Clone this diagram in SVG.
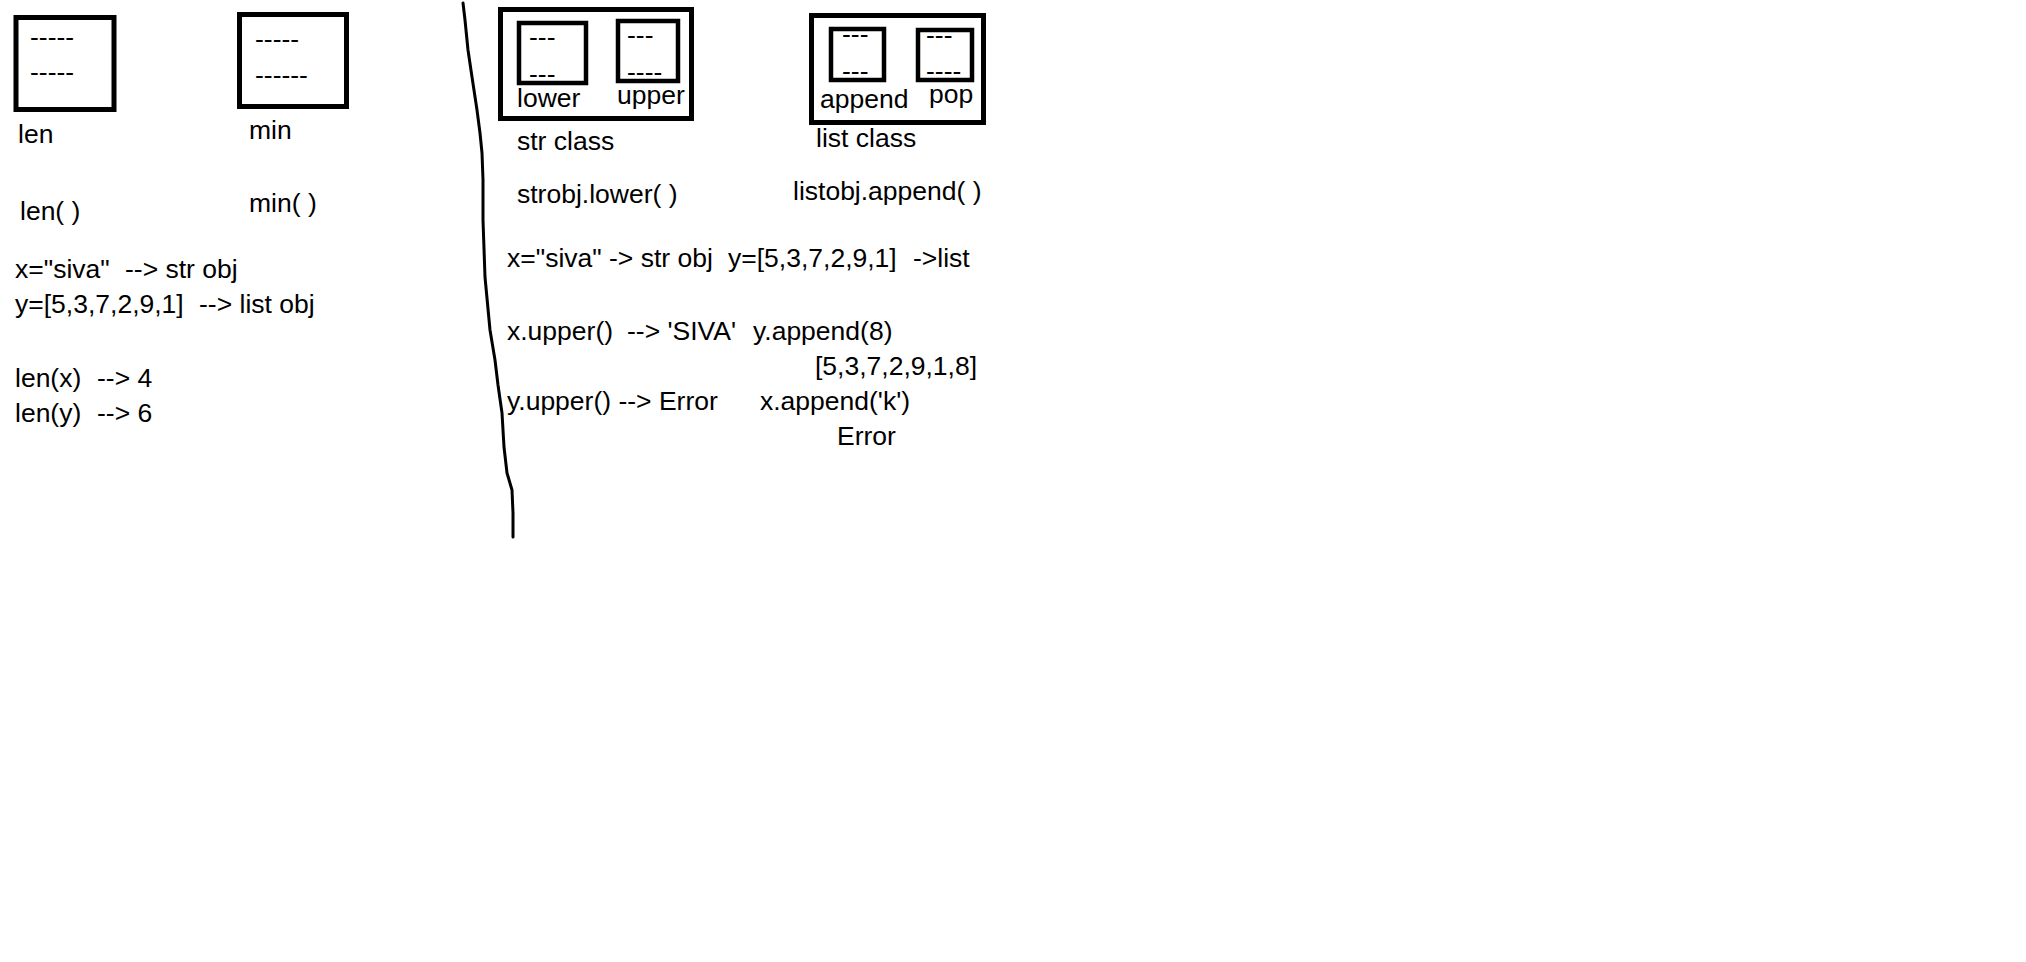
<svg xmlns="http://www.w3.org/2000/svg" width="2026" height="962" viewBox="0 0 2026 962">
<style>
text{font-family:"Liberation Sans",Arial,sans-serif;font-size:26.5px;fill:#000}
.box{fill:none;stroke:#000;stroke-width:5}
.ibox{fill:none;stroke:#000;stroke-width:4.5}
.div{fill:none;stroke:#000;stroke-width:3;stroke-linecap:round;stroke-linejoin:round}
</style>
<rect width="2026" height="962" fill="#fff"/>
<g id="len-node">
<text x="30" y="46">-----</text>
<text x="30" y="81">-----</text>
<rect class="box" x="16" y="17.5" width="98" height="92"/>
<text x="18" y="143">len</text>
<text x="20" y="220">len( )</text>
</g>
<g id="min-node">
<text x="255" y="48">-----</text>
<text x="255" y="84">------</text>
<rect class="box" x="239.5" y="14.5" width="107" height="92"/>
<text x="249" y="139">min</text>
<text x="249" y="212">min( )</text>
</g>
<g id="left-examples">
<text y="278"><tspan x="15">x="siva"</tspan><tspan x="125">--&gt; str obj</tspan></text>
<text y="313"><tspan x="15">y=[5,3,7,2,9,1]</tspan><tspan x="199">--&gt; list obj</tspan></text>
<text y="387"><tspan x="15">len(x)</tspan><tspan x="97">--&gt; 4</tspan></text>
<text y="422"><tspan x="15">len(y)</tspan><tspan x="97">--&gt; 6</tspan></text>
</g>
<g id="divider">
<path class="div" d="M463,3 L465,20 L468,50 L472,77 L477,110 L480,133 L482,153 L483,180 L483,220 L485,277 L490,330 L495,360 L498,385 L502,413 L504,447 L507,473 L512,490 L513,513 L513,537"/>
</g>
<g id="str-class">
<rect class="box" x="500.5" y="9.5" width="191" height="109"/>
<g id="lower-method">
<text x="529" y="46">---</text>
<text x="529" y="83">---</text>
<rect class="ibox" x="519" y="23" width="67" height="60"/>
<text x="517" y="107">lower</text>
</g>
<g id="upper-method">
<text x="627" y="44">---</text>
<text x="627" y="81">----</text>
<rect class="ibox" x="618" y="21" width="60" height="60"/>
<text x="617" y="104">upper</text>
</g>
<text x="517" y="150">str class</text>
<text x="517" y="203">strobj.lower( )</text>
</g>
<g id="list-class">
<rect class="box" x="811.5" y="15.5" width="172" height="107"/>
<g id="append-method">
<text x="842" y="43">---</text>
<text x="842" y="80">---</text>
<rect class="ibox" x="831" y="29" width="53" height="51"/>
<text x="820" y="108">append</text>
</g>
<g id="pop-method">
<text x="926" y="44">---</text>
<text x="926" y="80">----</text>
<rect class="ibox" x="918" y="30" width="54" height="50"/>
<text x="929" y="103">pop</text>
</g>
<text x="816" y="147">list class</text>
<text x="793" y="200">listobj.append( )</text>
</g>
<g id="right-examples">
<text y="267"><tspan x="507">x="siva" -&gt; str obj</tspan><tspan x="728">y=[5,3,7,2,9,1]</tspan><tspan x="913">-&gt;list</tspan></text>
<text y="340"><tspan x="507">x.upper()</tspan><tspan x="627">--&gt; 'SIVA'</tspan><tspan x="753">y.append(8)</tspan></text>
<text x="815" y="375">[5,3,7,2,9,1,8]</text>
<text y="410"><tspan x="507">y.upper() --&gt; Error</tspan><tspan x="760">x.append('k')</tspan></text>
<text x="837" y="445">Error</text>
</g>
</svg>
